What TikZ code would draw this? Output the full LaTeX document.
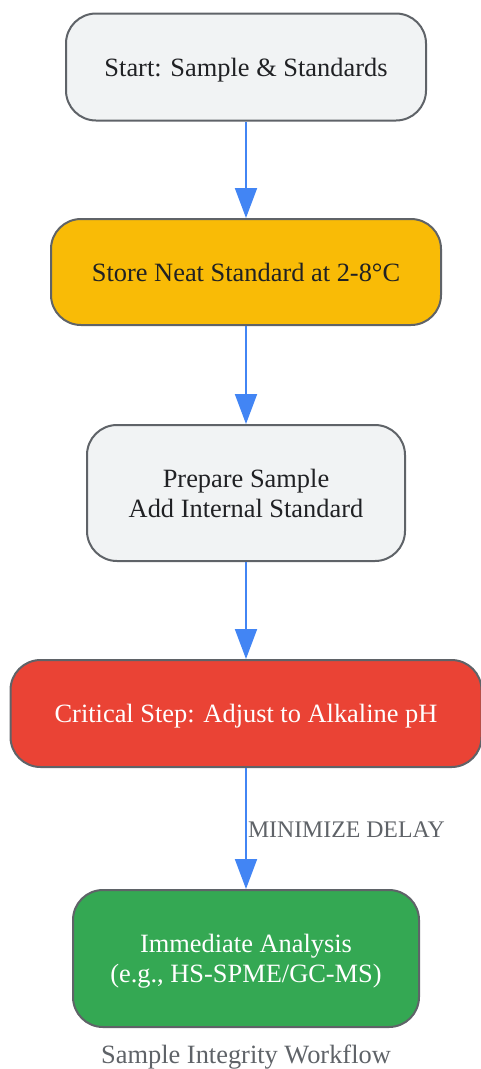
\documentclass[tikz,border=0pt]{standalone}
\usepackage{fontspec}
\setmainfont{Liberation Serif}
\usetikzlibrary{arrows.meta}

\definecolor{boxline}{HTML}{5F6368}
\definecolor{boxgray}{HTML}{F1F3F4}
\definecolor{boxyellow}{HTML}{F9BB06}
\definecolor{boxred}{HTML}{EA4335}
\definecolor{boxgreen}{HTML}{34A853}
\definecolor{flowblue}{HTML}{4285F4}
\definecolor{inktext}{HTML}{202124}

\begin{document}
\begin{tikzpicture}[x=1pt, y=-1pt,
  stage/.style={draw=boxline, line width=2pt, rounded corners=30pt,
    align=center, inner sep=0pt, text=inktext, text depth=0pt,
    font=\fontsize{26.4}{30}\selectfont},
  flow/.style={draw=flowblue, line width=2pt,
    -{Triangle[length=30pt, width=22pt]}},
  note/.style={text=boxline, font=\fontsize{23.8}{28}\selectfont}]

\useasboundingbox (0,0) rectangle (481,1069);

\node[stage, fill=boxgray, minimum width=360pt, minimum height=107pt]
  (start) at (246,67) {Start: Sample \& Standards};
\node[stage, fill=boxyellow, minimum width=390pt, minimum height=106pt]
  (store) at (246,272) {Store Neat Standard at 2-8°C};
\node[stage, fill=boxgray, minimum width=318pt, minimum height=136pt]
  (prep) at (246,493) {Prepare Sample\\Add Internal Standard};
\node[stage, fill=boxred, text=white, minimum width=471pt, minimum height=107pt]
  (crit) at (246,713.5) {Critical Step: Adjust to Alkaline pH};
\node[stage, fill=boxgreen, text=white, minimum width=346pt, minimum height=137pt]
  (anal) at (246,958.5) {Immediate Analysis\\(e.g., HS-SPME/GC-MS)};

\draw[flow] (start) -- (store);
\draw[flow] (store) -- (prep);
\draw[flow] (prep) -- (crit);
\draw[flow] (crit) -- node[note, right, inner sep=1pt, pos=0.51] (delay) {MINIMIZE DELAY} (anal);

\node[note, font=\fontsize{26.4}{30}\selectfont] (caption) at (246,1057) {Sample Integrity Workflow};

\end{tikzpicture}
\end{document}
